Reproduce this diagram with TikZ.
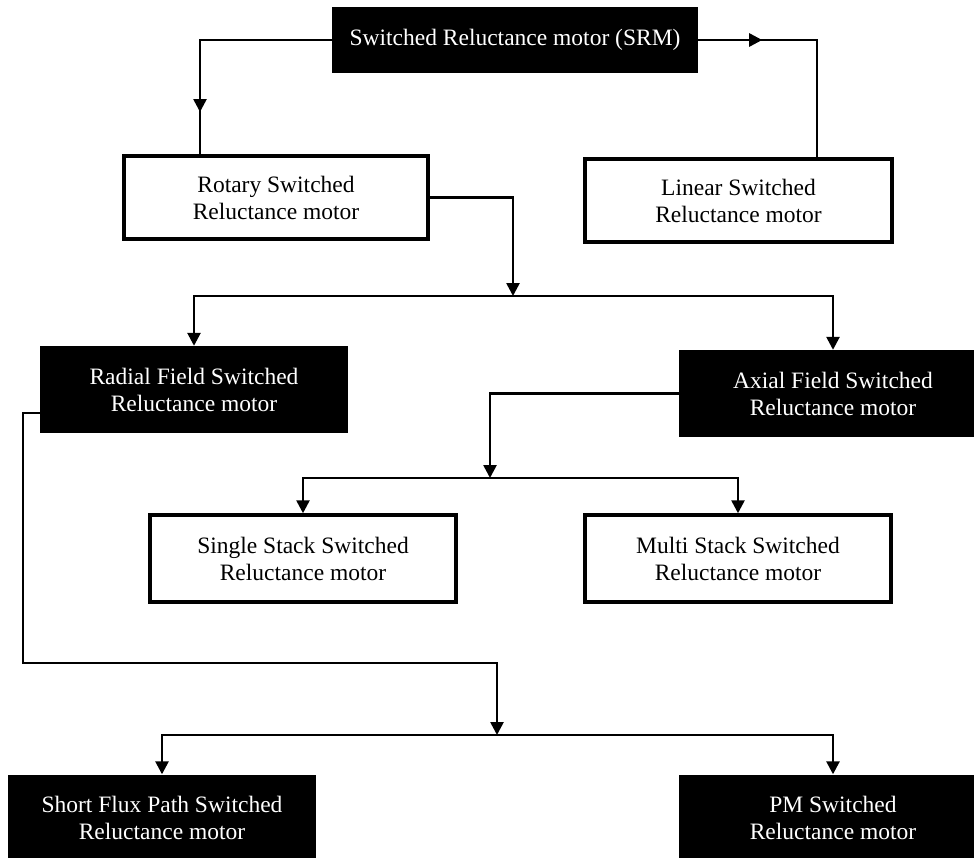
\documentclass[tikz,border=0pt]{standalone}
\usepackage{fontspec}
\setmainfont{Liberation Serif}
\usetikzlibrary{arrows.meta}
\begin{document}
\begin{tikzpicture}[x=1pt,y=-1pt,
  every node/.style={font=\fontsize{23.5}{27}\selectfont, align=center, inner sep=0pt},
  wbox/.style={draw=black, line width=3.5pt, fill=white, minimum width=#1, minimum height=83pt},
  bbox/.style={fill=black, text=white, minimum width=#1, minimum height=87pt},
  conn/.style={line width=2.6pt},
  arr/.style={line width=2.6pt, -{Triangle[length=13pt,width=13pt]}}]
\useasboundingbox (0,0) rectangle (974,857);
\fill[white] (0,0) rectangle (974,857);
\begin{scope}
\clip (0,0) rectangle (974,857);
% nodes
\node[fill=black, text=white, minimum width=366pt, minimum height=66pt] (srm) at (515,40) {Switched Reluctance motor (SRM)};
\node[wbox=304pt] (rot) at (276,197.5) {Rotary Switched\\Reluctance motor};
\node[wbox=307pt] (lin) at (738.5,200.5) {Linear Switched\\Reluctance motor};
\node[bbox=308pt] (rad) at (194,389.5) {Radial Field Switched\\Reluctance motor};
\node[bbox=308pt] (ax) at (833,393.5) {Axial Field Switched\\Reluctance motor};
\node[wbox=306pt, minimum height=87pt] (sin) at (303,558.5) {Single Stack Switched\\Reluctance motor};
\node[wbox=306pt, minimum height=87pt] (mul) at (738,558.5) {Multi Stack Switched\\Reluctance motor};
\node[bbox=308pt] (sf) at (162,818) {Short Flux Path Switched\\Reluctance motor};
\node[bbox=308pt] (pm) at (833,818) {PM Switched\\Reluctance motor};
% junction coordinates
\coordinate (j1) at (513,296);
\coordinate (j2) at (490,478);
\coordinate (j3) at (497,735);
\coordinate (rotin) at ([xshift=-76pt]rot.north);
\coordinate (linin) at ([xshift=78.5pt]lin.north);
\coordinate (lcorner) at (srm.west -| rotin);
% SRM branches
\draw[conn] (srm.west) -| (rotin);
\draw[arr] (lcorner) -- ++(0,72);
\draw[conn] (srm.east) -| (linin);
\draw[arr] (srm.east) -- ++(64,0);
% rotary to radial / axial
\draw[arr] (rot.east) -| (j1);
\draw[arr] (j1) -| (rad.north);
\draw[arr] (j1) -| (ax.north);
% axial to single / multi
\draw[arr] (ax.west) -| (j2);
\draw[arr] (j2) -| (sin.north);
\draw[arr] (j2) -| (mul.north);
% radial to short flux / PM
\draw[arr] ([yshift=-23.5pt]rad.west) -- ++(-17,0) |- (497,663) -- (j3);
\draw[arr] (j3) -| (sf.north);
\draw[arr] (j3) -| (pm.north);
\end{scope}
\end{tikzpicture}
\end{document}
